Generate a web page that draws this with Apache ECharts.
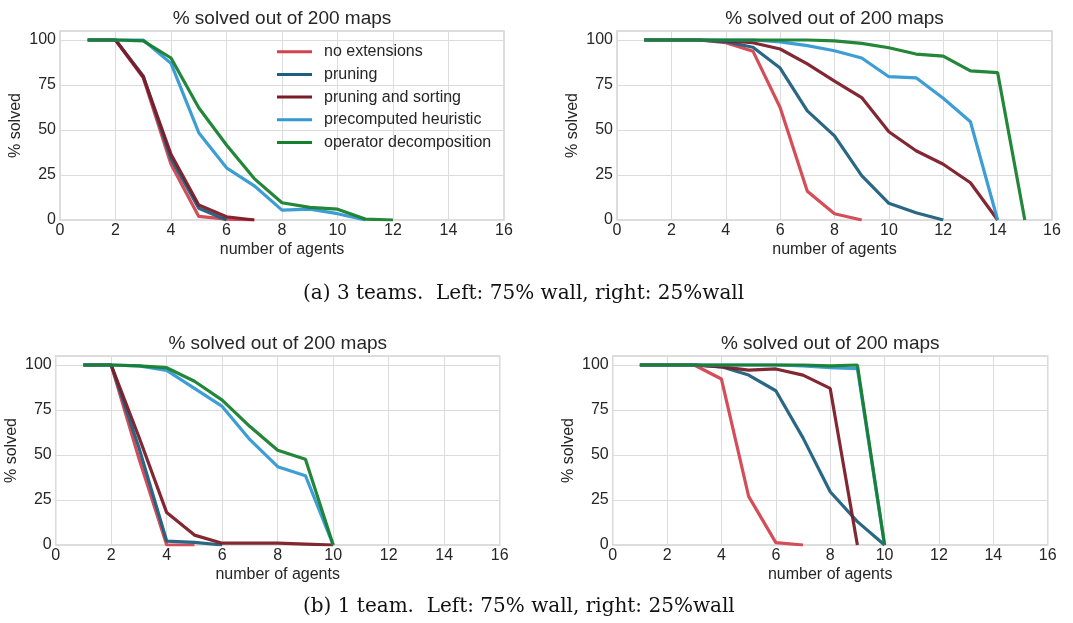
<!DOCTYPE html>
<html>
<head>
<meta charset="utf-8">
<script src="https://cdn.jsdelivr.net/npm/echarts@6/dist/echarts.min.js"></script>
<style>html,body{margin:0;padding:0;background:#fff}#c{width:1073px;height:623px}</style>
</head>
<body>
<div id="c"></div>
<script>
// ---- data ----
const SERIES_NAMES = ['no extensions', 'pruning', 'pruning and sorting', 'precomputed heuristic', 'operator decomposition'];
const AGENTS = [1, 2, 3, 4, 5, 6, 7, 8, 9, 10, 11, 12, 13, 14, 15];
const X_TICKS = [0, 2, 4, 6, 8, 10, 12, 14, 16];
const Y_TICKS = [0, 25, 50, 75, 100];
const PANEL_TITLE = '% solved out of 200 maps';
const X_LABEL = 'number of agents';
const Y_LABEL = '% solved';
const CAPTION_A = '(a) 3 teams.  Left: 75% wall, right: 25%wall';
const CAPTION_B = '(b) 1 team.  Left: 75% wall, right: 25%wall';

// (a) 3 teams, 75% wall
const a75_noExt   = [100, 100, 79, 31, 2, 0.5, 0];
const a75_prune   = [100, 100, 80, 34, 6.5, 0];
const a75_pruneS  = [100, 100, 79.5, 36.5, 8.3, 1.8, 0];
const a75_heur    = [100, 100, 100, 87, 48.5, 29, 19, 5.5, 6, 3.5, 0];
const a75_opdec   = [100, 100, 99.5, 90, 62.4, 41.7, 23, 9.6, 7, 6, 0.5, 0];
// (a) 3 teams, 25% wall
const a25_noExt   = [100, 100, 100, 98.5, 93.8, 62.5, 16, 3.5, 0];
const a25_prune   = [100, 100, 100, 99, 96, 84.4, 60.6, 46.7, 24.6, 9.3, 4, 0];
const a25_pruneS  = [100, 100, 100, 99.5, 98.5, 95, 86.7, 77.2, 68, 49, 38.5, 31, 20.7, 0];
const a25_heur    = [100, 100, 100, 100, 100, 99, 96.9, 94, 90, 79.6, 79, 67.6, 54.6, 0];
const a25_opdec   = [100, 100, 100, 100, 100, 100, 100, 99.5, 98.1, 95.7, 92.2, 91, 82.8, 81.9, 0];
// (b) 1 team, 75% wall
const b75_noExt   = [100, 100, 48, 0, 0];
const b75_prune   = [100, 100, 54, 2.2, 1.5, 0];
const b75_pruneS  = [100, 100, 60, 18, 5.5, 1, 1, 1, 0.5, 0];
const b75_heur    = [100, 100, 99.5, 97, 87, 77, 58.5, 43.5, 38.5, 0];
const b75_opdec   = [100, 100, 99.5, 98.5, 91, 80.5, 65.8, 52.6, 47.6, 0];
// (b) 1 team, 25% wall
const b25_noExt   = [100, 100, 100, 92.2, 27, 1.3, 0];
const b25_prune   = [100, 100, 100, 99, 94.4, 85.7, 59.5, 29.6, 13, 0];
const b25_pruneS  = [100, 100, 100, 99, 97.2, 97.8, 94.4, 87, 0];
const b25_heur    = [100, 100, 100, 100, 100, 100, 99.5, 98.5, 98, 0];
const b25_opdec   = [100, 100, 100, 100, 100, 100, 100, 99.5, 100, 0];

const PANELS = [
  [a75_noExt, a75_prune, a75_pruneS, a75_heur, a75_opdec],
  [a25_noExt, a25_prune, a25_pruneS, a25_heur, a25_opdec],
  [b75_noExt, b75_prune, b75_pruneS, b75_heur, b75_opdec],
  [b25_noExt, b25_prune, b25_pruneS, b25_heur, b25_opdec]
];

// ---- styling / layout ----
const COLORS = ['#d3434f', '#1e5f7e', '#7c1b27', '#3399d4', '#17802e'];
const FONT = '"Liberation Sans", Arial, sans-serif';
const TXT = '#262626';
const GRIDS = [
  {left: 60,    top: 31,  width: 444, height: 189},
  {left: 617,   top: 31,  width: 435, height: 189},
  {left: 55.7,  top: 356, width: 444, height: 189},
  {left: 612.7, top: 356, width: 435, height: 189}
];

const grid = GRIDS.map(g => Object.assign({
  show: true, backgroundColor: 'transparent', borderColor: '#d2d2d2', borderWidth: 1.5,
  containLabel: false
}, g));

const xAxis = GRIDS.map((g, i) => ({
  type: 'value', gridIndex: i, min: X_TICKS[0], max: X_TICKS[X_TICKS.length - 1], interval: X_TICKS[1] - X_TICKS[0],
  name: X_LABEL, nameLocation: 'middle', nameGap: 22,
  nameTextStyle: {fontFamily: FONT, fontSize: 16, color: TXT},
  axisLine: {show: false}, axisTick: {show: false},
  axisLabel: {fontFamily: FONT, fontSize: 16, color: TXT, margin: 3},
  splitLine: {show: true, lineStyle: {color: '#dcdcdc', width: 1}}
}));

const yAxis = GRIDS.map((g, i) => ({
  type: 'value', gridIndex: i, min: Y_TICKS[0], max: 105, interval: Y_TICKS[1] - Y_TICKS[0],
  name: Y_LABEL, nameLocation: 'middle', nameGap: 36, nameRotate: 90,
  nameTextStyle: {fontFamily: FONT, fontSize: 16, color: TXT},
  axisLine: {show: false}, axisTick: {show: false},
  axisLabel: {fontFamily: FONT, fontSize: 16, color: TXT, margin: 4, showMaxLabel: false,
    formatter: v => (Y_TICKS.indexOf(v) >= 0 ? String(v) : '')},
  splitLine: {show: true, lineStyle: {color: '#dcdcdc', width: 1}}
}));

const series = [];
PANELS.forEach((panel, pi) => {
  panel.forEach((vals, si) => {
    series.push({
      type: 'line', name: SERIES_NAMES[si], xAxisIndex: pi, yAxisIndex: pi,
      data: vals.map((v, k) => [AGENTS[k], v]),
      showSymbol: false, symbol: 'none', animation: false,
      lineStyle: {color: COLORS[si], width: 3.2, opacity: 0.95},
      itemStyle: {color: COLORS[si]},
      z: 2 + si
    });
  });
});

const title = GRIDS.map(g => ({
  text: PANEL_TITLE, left: g.left + g.width / 2, top: g.top - 22, textAlign: 'center', padding: 0,
  textStyle: {fontFamily: FONT, fontSize: 19, fontWeight: 'normal', color: TXT}
}));

const CAP_FONT = '20px "DejaVu Serif", "Liberation Serif", serif';

const chart = echarts.init(document.getElementById('c'), null, {renderer: 'canvas'});
chart.setOption({
  animation: false,
  backgroundColor: '#ffffff',
  title: title,
  grid: grid,
  xAxis: xAxis,
  yAxis: yAxis,
  legend: {
    data: SERIES_NAMES, orient: 'vertical', left: 277, top: 43.7, padding: 0,
    icon: 'rect', itemWidth: 35, itemHeight: 3, itemGap: 6.7,
    textStyle: {fontFamily: FONT, fontSize: 16, color: TXT, lineHeight: 16, padding: [0, 0, 0, 7]},
    selectedMode: false
  },
  graphic: [
    {type: 'text', left: 303, top: 284, style: {text: CAPTION_A, font: CAP_FONT, fill: '#111'}},
    {type: 'text', left: 303, top: 597, style: {text: CAPTION_B, font: CAP_FONT, fill: '#111'}}
  ],
  series: series
});
</script>
</body>
</html>
